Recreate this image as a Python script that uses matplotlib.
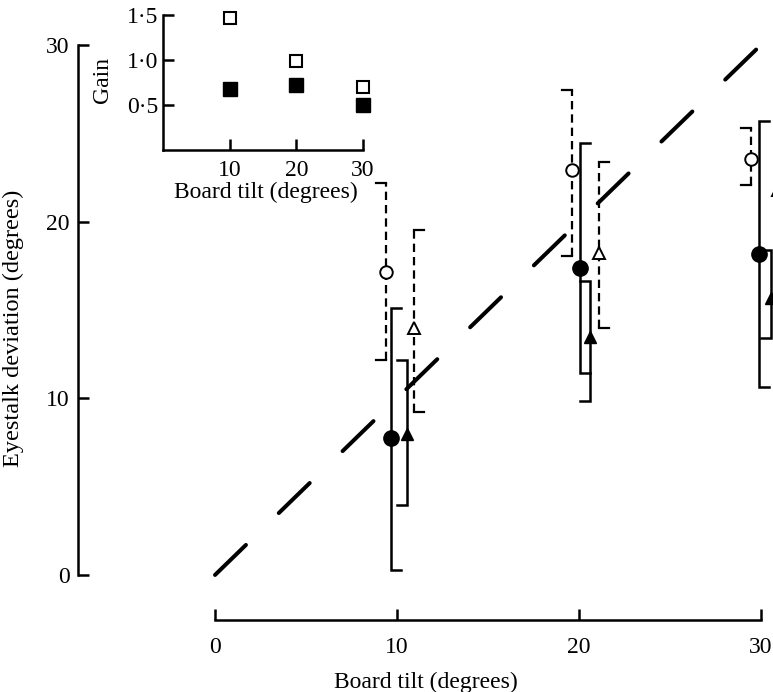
import matplotlib
matplotlib.use("Agg")
import matplotlib.pyplot as plt

plt.rcParams['font.family'] = ['Liberation Serif', 'DejaVu Serif']
plt.rcParams['lines.scale_dashes'] = False

# main plot: eyestalk deviation vs board tilt (means with +/- SD)
oc_tilt = [9.40, 19.62, 29.45]
oc_mean = [17.15, 22.92, 23.54]
oc_lo = [12.17, 18.05, 22.07]
oc_hi = [22.18, 27.45, 25.30]

fc_tilt = [9.67, 20.05, 29.89]
fc_mean = [7.75, 17.37, 18.17]
fc_lo = [0.28, 11.43, 10.64]
fc_hi = [15.11, 24.45, 25.69]

ft_tilt = [10.55, 20.60, 30.55]
ft_mean = [7.98, 13.47, 15.68]
ft_lo = [3.96, 9.85, 13.41]
ft_hi = [12.17, 16.64, 18.39]

ot_tilt = [10.93, 21.10, 30.95]
ot_mean = [14.00, 18.22, 21.80]
ot_lo = [9.22, 13.98, 19.00]
ot_hi = [19.52, 23.37, 24.00]

main_ticks = [0, 10, 20, 30]

# inset: gain vs board tilt
gain_tilt = [10, 20, 30]
gain_open = [1.47, 0.99, 0.70]
gain_filled = [0.68, 0.72, 0.50]
gain_ticks = [0.5, 1.0, 1.5]
gain_ticklabels = ['0·5', '1·0', '1·5']

FS = 17
LW = 1.8


def sd_bars(ax, x, lo, hi, side, ls):
    cap = 0.55 * side
    for xi, l, h in zip(x, lo, hi):
        if ls == 'solid':
            ax.plot([xi + cap, xi, xi, xi + cap], [h, h, l, l], color='black',
                    lw=LW, solid_joinstyle='miter', zorder=2)
        else:
            ax.plot([xi, xi], [l, h], color='black', lw=1.6,
                    dashes=(6, 3.6), zorder=2)
            ax.plot([xi + cap, xi], [h, h], color='black', lw=1.6, zorder=2)
            ax.plot([xi + cap, xi], [l, l], color='black', lw=1.6, zorder=2)


fig = plt.figure(figsize=(7.73, 6.92), dpi=100)
ax = fig.add_axes([78 / 773, 72 / 692, 695 / 773, 620 / 692])
ax.set_xlim(-7.53, 30.66)
ax.set_ylim(-2.55, 32.54)

# line of unity gain
ax.plot([0, 30.8], [0, 30.8], color='black', lw=2.9, dashes=(31, 33),
        dash_capstyle='round', zorder=1)

sd_bars(ax, oc_tilt, oc_lo, oc_hi, -1, 'dashed')
sd_bars(ax, fc_tilt, fc_lo, fc_hi, 1, 'solid')
sd_bars(ax, ft_tilt, ft_lo, ft_hi, -1, 'solid')
sd_bars(ax, ot_tilt, ot_lo, ot_hi, 1, 'dashed')

ax.plot(oc_tilt, oc_mean, 'o', ms=9, mfc='white', mec='black', mew=1.4, zorder=3)
ax.plot(fc_tilt, fc_mean, 'o', ms=11, color='black', zorder=3)
ax.plot(ft_tilt, ft_mean, '^', ms=9, color='black', zorder=3)
ax.plot(ot_tilt, ot_mean, '^', ms=9, mfc='white', mec='black', mew=1.4, zorder=3)

for s in ['top', 'right']:
    ax.spines[s].set_visible(False)
for s in ['left', 'bottom']:
    ax.spines[s].set_linewidth(LW)
    ax.spines[s].set_bounds(0, 30)
    ax.spines[s].set_capstyle('projecting')
ax.set_xticks(main_ticks)
ax.set_yticks(main_ticks)
ax.tick_params(direction='in', length=8, width=LW, labelsize=FS)
ax.tick_params(axis='x', pad=12)
ax.tick_params(axis='y', pad=6)
ax.set_xlabel('Board tilt (degrees)', fontsize=FS, labelpad=10)
ax.set_ylabel('Eyestalk deviation (degrees)', fontsize=17.5)
ax.yaxis.set_label_coords(-0.078, 0.47)

# inset
ins = fig.add_axes([163 / 773, 1 - 150 / 692, 205 / 773, 140 / 692])
ins.set_xlim(0, 30.75)
ins.set_ylim(0, 1.556)
ins.patch.set_alpha(0)
ins.plot(gain_tilt, gain_open, 's', ms=9, mfc='white', mec='black', mew=1.5,
         clip_on=False)
ins.plot(gain_tilt, gain_filled, 's', ms=10, color='black', clip_on=False)
for s in ['top', 'right']:
    ins.spines[s].set_visible(False)
for s in ['left', 'bottom']:
    ins.spines[s].set_linewidth(LW)
    ins.spines[s].set_capstyle('projecting')
ins.spines['left'].set_bounds(0, 1.5)
ins.spines['bottom'].set_bounds(0, 30)
ins.set_xticks(gain_tilt)
ins.set_yticks(gain_ticks)
ins.set_yticklabels(gain_ticklabels)
ins.tick_params(direction='in', length=8, width=LW, labelsize=FS)
ins.tick_params(axis='x', pad=7)
ins.set_xlabel('Board tilt (degrees)', fontsize=FS, labelpad=1)
ins.set_ylabel('Gain', fontsize=FS, labelpad=10)

fig.savefig('out.png', dpi=100)
